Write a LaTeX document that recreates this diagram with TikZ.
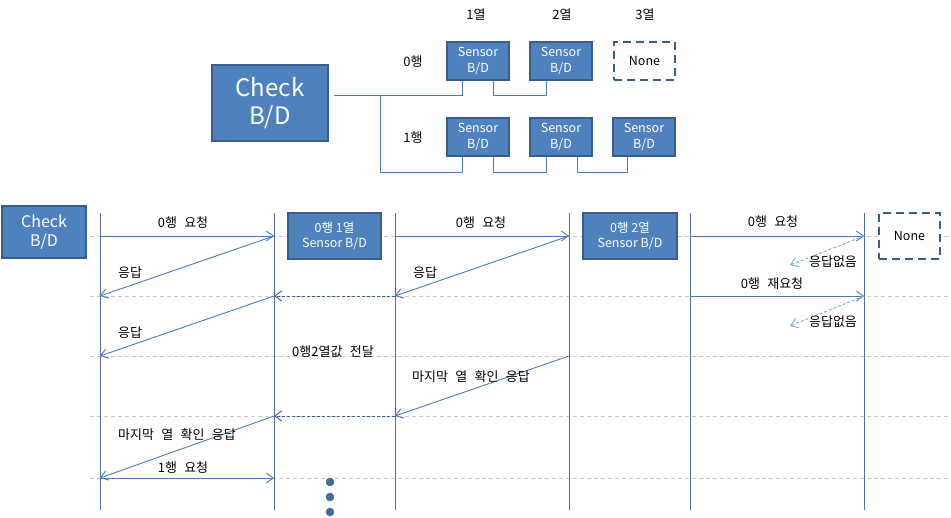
\documentclass[tikz,border=0pt]{standalone}
\usepackage{fontspec}
\setmainfont{Noto Sans CJK KR}[WordSpace=2.5]
\newfontfamily\boardfont{Noto Sans CJK KR}
\usetikzlibrary{arrows.meta}
\definecolor{bdfill}{RGB}{79,129,189}
\definecolor{bdline}{RGB}{56,93,138}
\definecolor{wireblue}{RGB}{74,126,187}
\definecolor{lifeblue}{RGB}{84,110,150}
\definecolor{rowgray}{RGB}{212,196,200}

\begin{document}
\begin{tikzpicture}[x=1pt,y=-1pt,
	board/.style={draw=bdline,line width=1.5pt,fill=bdfill,text=white,inner sep=0,align=center,font=\boardfont\fontsize{12.5}{16}\selectfont},
	noneboard/.style={draw=bdline,line width=2.5pt,dash pattern=on 8pt off 5pt,fill=white,inner sep=0,align=center,font=\boardfont\fontsize{12.5}{16}\selectfont},
	lbl/.style={inner sep=0,font=\fontsize{13}{15}\selectfont},
	wire/.style={draw=wireblue,line width=0.9pt},
	msg/.style={draw=wireblue,line width=0.9pt,-{Straight Barb[length=7pt,width=10pt]}},
	back/.style={msg,densely dashed,draw=bdline},
	lost/.style={msg,dash pattern=on 3pt off 2pt,draw=wireblue!70},
	rowline/.style={draw=rowgray,line width=0.7pt,dash pattern=on 4pt off 3pt},
	lifeline/.style={draw=lifeblue,line width=0.9pt}]
	\useasboundingbox (0,0) rectangle (951,518);

	% wiring of the boards
	\node[board,minimum width=116,minimum height=76,font=\boardfont\fontsize{24}{28}\selectfont] (chk) at (270,103) {Check\\B/D};
	\node[lbl] (col1) at (476,15) {1열};
	\node[lbl] (col2) at (562,15) {2열};
	\node[lbl] (col3) at (645,15) {3열};
	\node[lbl] (row0) at (413,62) {0행};
	\node[lbl] (row1) at (413,138) {1행};
	\node[board,minimum width=62,minimum height=38] (s01) at (478,61) {Sensor\\B/D};
	\node[board,minimum width=62,minimum height=38] (s02) at (561,61) {Sensor\\B/D};
	\node[noneboard,minimum width=61,minimum height=38] (s03) at (644.5,61) {None};
	\node[board,minimum width=62,minimum height=38] (s11) at (478,137) {Sensor\\B/D};
	\node[board,minimum width=62,minimum height=38] (s12) at (561,137) {Sensor\\B/D};
	\node[board,minimum width=62,minimum height=38] (s13) at (644,137) {Sensor\\B/D};
	\coordinate (bus) at (380,95);
	\draw[wire] ([xshift=5pt]chk.east |- bus) -| ([xshift=16pt]s01.south west);
	\draw[wire] (bus) -- (bus |- 0,172) -| ([xshift=16pt]s11.south west);
	\draw[wire] ([xshift=-16pt]s01.south east) -- ++(0,15) -| ([xshift=17pt]s02.south west);
	\draw[wire] ([xshift=-16pt]s11.south east) -- ++(0,16) -| ([xshift=17pt]s12.south west);
	\draw[wire] ([xshift=-15pt]s12.south east) -- ++(0,16) -| ([xshift=15pt]s13.south west);

	% sequence
	\foreach \n/\x in {a/100,b/274,c/395,d/569,e/690,f/864} {
		\coordinate (\n0) at (\x,213);
		\coordinate (\n9) at (\x,510);
		\foreach \r/\y in {1/236,2/296,3/356,4/416,5/478}
			\coordinate (\n\r) at (\x,\y);
	}
	\foreach \r in {1,...,5}
		\draw[rowline] ([xshift=-10pt]a\r) -- (951,0 |- a\r);
	\foreach \n in {a,b,c,d,e,f}
		\draw[lifeline] (\n0) -- (\n9);

	\node[board,minimum width=84,minimum height=52,font=\boardfont\fontsize{16}{19}\selectfont] (chk2) at (44,232) {Check\\B/D};
	\node[board,minimum width=93,minimum height=46,font=\boardfont\fontsize{12.5}{15}\selectfont] (p1) at (334.5,236) {0행 1열\\Sensor B/D};
	\node[board,minimum width=94,minimum height=46,font=\boardfont\fontsize{12.5}{15}\selectfont] (p2) at (630,236) {0행 2열\\Sensor B/D};
	\node[noneboard,minimum width=61,minimum height=46] (p3) at (909.5,236) {None};

	\draw[msg] (a1) -- (b1);
	\node[lbl] (m1) at (183,223) {0행 요청};
	\draw[msg] (b1) -- (a2);
	\node[lbl] (m2) at (130,273) {응답};
	\draw[msg] (c1) -- (d1);
	\node[lbl] (m3) at (481,223) {0행 요청};
	\draw[msg] (d1) -- (c2);
	\node[lbl] (m4) at (425,273) {응답};
	\draw[back] (c2) -- (b2);
	\draw[msg] (b2) -- (a3);
	\node[lbl] (m5) at (130,333) {응답};
	\node[lbl] (m6) at (333,352) {0행2열값 전달};
	\draw[msg] (e1) -- (f1);
	\node[lbl] (m7) at (773,222) {0행 요청};
	\coordinate (x1) at (790,265);
	\draw[lost] (f1) -- (x1);
	\node[lbl] (m8) at (833,262) {응답없음};
	\draw[msg] (e2) -- (f2);
	\node[lbl] (m9) at (772,284) {0행 재요청};
	\coordinate (x2) at (790,326);
	\draw[lost] (f2) -- (x2);
	\node[lbl] (m10) at (833,322) {응답없음};
	\draw[msg] (d3) -- (c4);
	\node[lbl] (m11) at (471,377) {마지막 열 확인 응답};
	\draw[back] (c4) -- (b4);
	\draw[msg] (b4) -- (a5);
	\node[lbl] (m12) at (177,435) {마지막 열 확인 응답};
	\draw[msg] (a5) -- (b5);
	\node[lbl] (m13) at (183,468) {1행 요청};

	\foreach \i/\y in {1/482,2/497,3/512}
		\node[circle,draw=bdline,fill=bdfill!85!black,inner sep=0,minimum size=8] (dot\i) at (330,\y) {};
\end{tikzpicture}
\end{document}
